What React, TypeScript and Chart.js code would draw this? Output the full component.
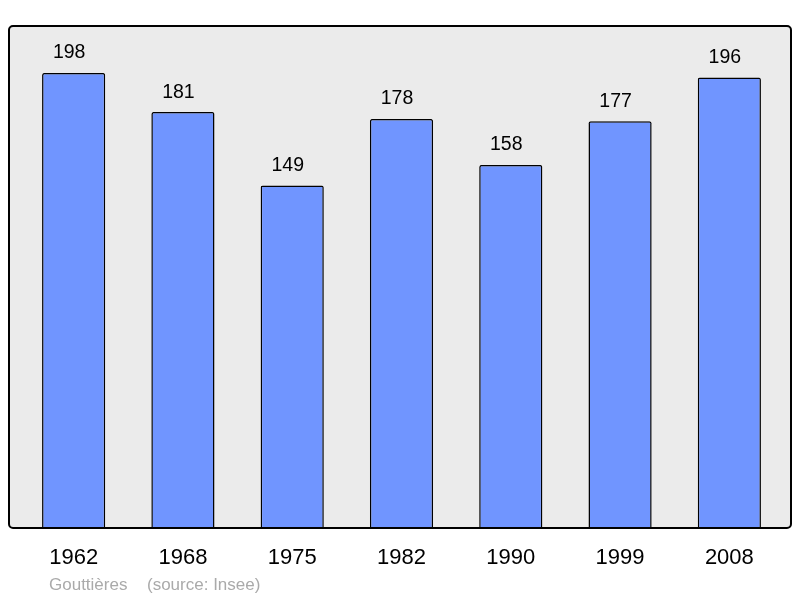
import React, { useEffect, useRef } from "react";
import { Chart, registerables } from "chart.js";

Chart.register(...registerables);

const years = ["1962", "1968", "1975", "1982", "1990", "1999", "2008"];
const population = [198, 181, 149, 178, 158, 177, 196];
const yMax = 218;
const sourceName = "Gouttières";
const sourceRef = "(source: Insee)";

const FONT = "'Liberation Sans', Arial, sans-serif";

const framePlugin = {
  id: "frame",
  beforeDraw(chart: any) {
    const ctx = chart.ctx;
    const ca = chart.chartArea;
    const x0 = 9, x1 = 791, y0 = ca.top - 1, y1 = ca.bottom;
    ctx.save();
    ctx.beginPath();
    (ctx as any).roundRect(x0, y0, x1 - x0, y1 - y0, 4);
    ctx.fillStyle = "#ebebeb";
    ctx.fill();
    ctx.restore();
  },
  afterDatasetsDraw(chart: any) {
    const ctx = chart.ctx;
    const ca = chart.chartArea;
    const x0 = 9, x1 = 791, y0 = ca.top - 1, y1 = ca.bottom;
    ctx.save();
    ctx.beginPath();
    (ctx as any).roundRect(x0, y0, x1 - x0, y1 - y0, 4);
    ctx.lineWidth = 2;
    ctx.strokeStyle = "#000";
    ctx.stroke();
    // value labels
    const meta = chart.getDatasetMeta(0);
    ctx.fillStyle = "#000";
    ctx.font = `19.5px ${FONT}`;
    ctx.textAlign = "center";
    ctx.textBaseline = "alphabetic";
    meta.data.forEach((bar: any, i: number) => {
      ctx.fillText(String(population[i]), bar.x - 4.5, bar.y - 14.5);
    });
    // source
    ctx.fillStyle = "#aaaaaa";
    ctx.font = `17px ${FONT}`;
    ctx.textAlign = "left";
    ctx.fillText(sourceName, 49, 590);
    ctx.fillText(sourceRef, 147, 590);
    ctx.restore();
  },
};

export default function App() {
  const ref = useRef<HTMLCanvasElement>(null);
  useEffect(() => {
    const chart = new Chart(ref.current!, {
      type: "bar",
      data: {
        labels: years,
        datasets: [
          {
            data: population,
            backgroundColor: "#7095ff",
            borderColor: "#000",
            borderWidth: 1.5,
            borderRadius: { topLeft: 2, topRight: 2, bottomLeft: 0, bottomRight: 0 },
            borderSkipped: "bottom",
            categoryPercentage: 1,
            barPercentage: 0.578,
          },
        ],
      },
      options: {
        animation: false,
        responsive: false,
        maintainAspectRatio: false,
        layout: { padding: { left: 19, right: 16, top: 27, bottom: 0 } },
        plugins: { legend: { display: false }, tooltip: { enabled: false } },
        scales: {
          x: {
            grid: { display: false, drawTicks: false },
            border: { display: false },
            ticks: { color: "#000", font: { family: FONT, size: 22 }, padding: 17 },
            afterFit: (scale: any) => {
              scale.height = 70;
            },
          },
          y: { display: false, min: 0, max: yMax },
        },
      },
      plugins: [framePlugin],
    });
    return () => chart.destroy();
  }, []);
  return (
    <div style={{ position: "fixed", left: 0, top: 0, width: 800, height: 598 }}>
      <canvas ref={ref} width={800} height={598} style={{ width: 800, height: 598 }} />
    </div>
  );
}
